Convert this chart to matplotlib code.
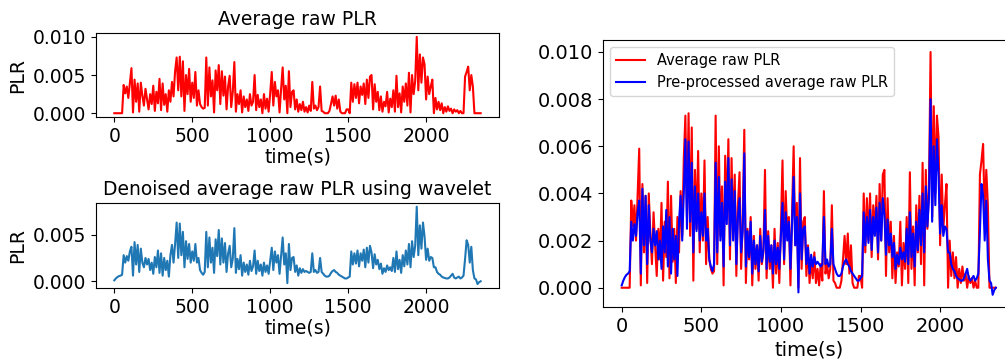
import matplotlib
matplotlib.use('Agg')
import matplotlib.pyplot as plt
from matplotlib.ticker import FormatStrFormatter
import numpy as np

# sample times (s), one reading every 10 s
time_s = np.arange(0, 2360, 10)

# average raw PLR, in units of 1e-3
raw_plr = [
    0, 0, 0, 0, 0, 0, 3.7, 2.6, 3.5, 2.0,
    4.0, 5.9, 0.1, 4.4, 1.5, 3.9, 0.2, 4.0, 2.3, 1.0,
    3.2, 1.8, 0.5, 2.5, 1.2, 3.6, 0.3, 2.8, 1.3, 4.5,
    0.4, 3.9, 1.1, 2.5, 0.2, 3.0, 1.5, 4.1, 2.2, 5.5,
    7.3, 3.0, 7.4, 2.2, 6.8, 0.3, 5.0, 2.5, 5.8, 1.5,
    4.0, 2.0, 5.4, 1.0, 3.0, 1.2, 0.8, 0.6, 0.7, 7.3,
    1.0, 6.0, 2.2, 4.3, 0.1, 5.6, 3.0, 6.3, 1.2, 5.5,
    2.3, 4.8, 0.5, 3.5, 4.9, 0.8, 2.8, 6.7, 0.2, 2.5,
    1.2, 3.0, 0.1, 2.2, 0.8, 1.8, 0.3, 2.5, 1.0, 1.5,
    5.0, 0.4, 2.4, 0.8, 1.8, 0.0, 2.5, 0.6, 1.9, 0.2,
    2.6, 5.4, 1.0, 4.1, 2.2, 3.0, 0.1, 3.2, 6.0, 1.8,
    3.6, 0.0, 5.5, 0.8, 2.8, 3.0, 0.5, 1.8, 0.2, 1.2,
    0.4, 1.5, 0.2, 0.8, 0.1, 1.0, 0.3, 4.1, 0.6, 1.0,
    0.4, 0.8, 3.5, 0.3, 0.2, 0.0, 0.0, 0.0, 0.3, 1.2,
    2.2, 1.0, 2.3, 0.6, 1.8, 0.2, 0.0, 0.0, 0.0, 0.5,
    0.5, 0.0, 4.0, 1.5, 3.8, 2.0, 4.0, 1.3, 3.5, 2.4,
    3.9, 1.2, 4.4, 2.0, 4.8, 5.0, 0.5, 3.8, 1.5, 2.8,
    0.4, 2.2, 0.2, 1.5, 0.9, 2.8, 0.1, 1.9, 0.8, 3.0,
    0.2, 4.9, 0.8, 2.6, 0.1, 3.5, 1.5, 3.9, 1.0, 5.3,
    0.1, 5.0, 2.5, 4.2, 10.0, 3.0, 7.7, 4.0, 7.3, 6.4,
    1.8, 4.8, 2.5, 3.5, 4.4, 0.0, 2.0, 0.5, 1.5, 0.4,
    1.3, 0.0, 0.8, 0.2, 0.9, 0.3, 0.6, 0.0, 0.5, 0.2,
    0.4, 0.0, 0.3, 0.0, 0.0, 4.8, 5.4, 6.1, 3.0, 5.0,
    3.5, 0.0, 0.0, 0.0, 0.0, 0.0,
]

# wavelet denoised / pre-processed PLR, in units of 1e-3
denoised_plr = [
    0.1, 0.3, 0.45, 0.55, 0.6, 0.7, 2.8, 2.0, 2.7, 2.2,
    3.2, 3.7, 0.6, 4.2, 1.8, 3.9, 1.0, 3.5, 2.0, 1.5,
    2.5, 1.8, 2.4, 1.2, 2.0, 0.8, 2.6, 1.5, 3.3, 0.9,
    3.0, 0.6, 2.5, 1.2, 2.2, 0.5, 2.8, 3.9, 2.0, 4.0,
    6.3, 2.5, 6.2, 2.8, 5.3, 1.5, 4.3, 2.4, 4.0, 2.0,
    3.2, 2.2, 4.0, 2.0, 2.5, 1.2, 0.9, 0.7, 1.0, 5.3,
    1.5, 4.7, 2.0, 3.6, 0.9, 4.5, 2.7, 5.5, 1.8, 4.6,
    2.0, 4.1, 1.0, 3.0, 3.8, 1.5, 2.4, 5.7, 0.9, 2.4,
    1.3, 2.8, 0.6, 2.0, 1.0, 1.8, 0.7, 2.2, 1.1, 1.6,
    3.3, 0.8, 2.2, 1.1, 1.8, 0.6, 2.0, 1.0, 1.7, 0.8,
    2.2, 3.6, 1.2, 3.2, 2.0, 2.8, 0.8, 2.8, 4.7, 1.8,
    3.0, -0.2, 4.0, 1.2, 2.5, 2.6, 1.0, 1.7, 0.6, 1.4,
    0.9, 1.3, 1.0, 1.1, 1.0, 0.9, 1.0, 3.0, 1.0, 1.2,
    0.9, 1.0, 2.5, 1.0, 0.8, 0.6, 0.5, 0.5, 0.6, 0.9,
    1.1, 1.2, 1.0, 0.9, 0.7, 0.6, 0.5, 0.4, 0.3, 0.3,
    0.4, 0.5, 3.2, 1.8, 3.0, 1.9, 3.3, 1.6, 3.0, 2.2,
    3.4, 1.5, 3.6, 2.0, 3.8, 3.1, 1.4, 2.9, 1.8, 2.3,
    1.3, 1.9, 0.8, 1.4, 1.0, 1.7, 1.2, 1.5, 1.1, 2.5,
    1.0, 3.2, 1.3, 2.3, 0.9, 2.8, 1.6, 3.3, 1.8, 4.0,
    1.5, 4.3, 2.6, 3.8, 8.0, 2.8, 6.0, 3.5, 6.3, 4.8,
    2.3, 3.5, 2.2, 2.6, 2.5, 1.5, 1.5, 1.0, 0.8, 0.7,
    0.5, 0.4, 0.35, 0.3, 0.3, 0.4, 0.6, 0.8, 0.4, 0.3,
    0.4, 0.5, 0.3, 0.4, 0.6, 2.4, 4.4, 3.9, 2.0, 3.7,
    1.2, 0.3, 0.2, -0.3, -0.1, 0.0,
]

raw_yticks = [0.0, 0.005, 0.010]
den_yticks = [0.0, 0.005]

raw = np.array(raw_plr) * 1e-3
den = np.array(denoised_plr) * 1e-3

fig = plt.figure(figsize=(10.05, 3.59), dpi=100)
ax1 = fig.add_axes([0.0955, 0.674, 0.401, 0.234])
ax2 = fig.add_axes([0.0955, 0.198, 0.401, 0.237])
ax3 = fig.add_axes([0.600, 0.145, 0.4095, 0.744])

ax1.plot(time_s, raw, 'r')
ax1.set_yticks(raw_yticks)
ax1.yaxis.set_major_formatter(FormatStrFormatter('%.3f'))
ax1.set_title('Average raw PLR', fontsize=13.5)
ax1.set_ylabel('PLR', fontsize=13.5)
ax1.set_xlabel('time(s)', fontsize=13.5, labelpad=1)

ax2.plot(time_s, den, color='tab:blue')
ax2.set_yticks(den_yticks)
ax2.yaxis.set_major_formatter(FormatStrFormatter('%.3f'))
ax2.set_title('Denoised average raw PLR using wavelet', fontsize=13.5)
ax2.set_ylabel('PLR', fontsize=13.5)
ax2.set_xlabel('time(s)', fontsize=13.5, labelpad=1)

ax3.plot(time_s, raw, 'r', label='Average raw PLR')
ax3.plot(time_s, den, 'b', label='Pre-processed average raw PLR')
ax3.set_xlabel('time(s)', fontsize=14, labelpad=3.5)
ax3.legend(loc='upper left', fontsize=10.5)

for ax in (ax1, ax2):
    ax.tick_params(labelsize=13.5)
ax3.tick_params(labelsize=14)

fig.savefig('out.png', dpi=100)
